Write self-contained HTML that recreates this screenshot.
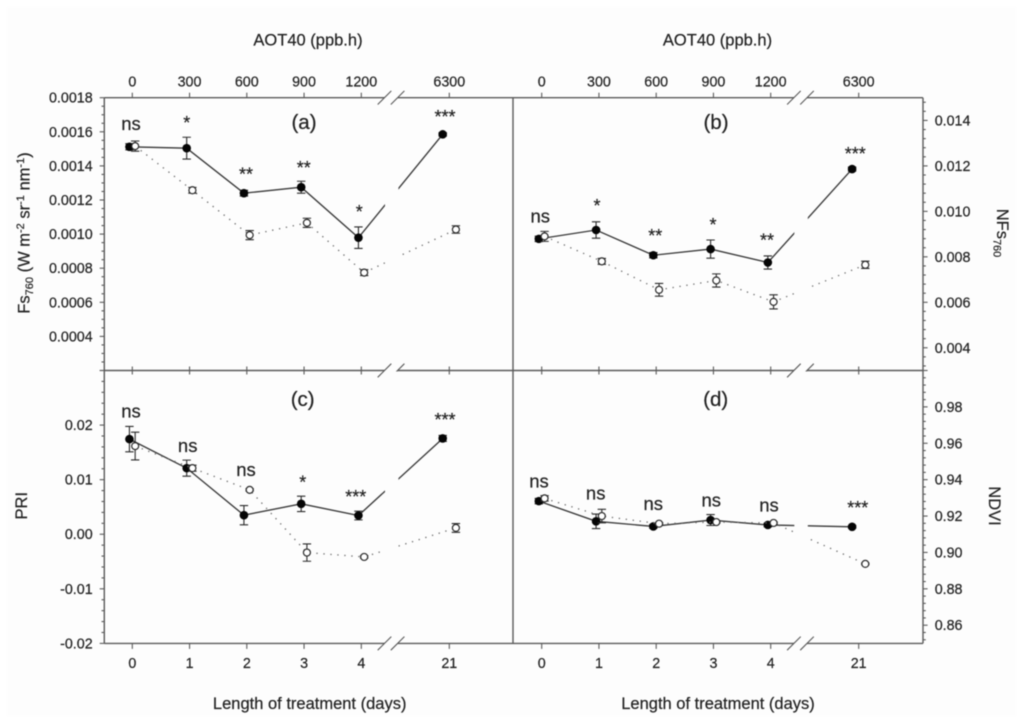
<!DOCTYPE html>
<html lang="en">
<head>
<meta charset="utf-8">
<title>Fs760, NFs760, PRI and NDVI versus length of treatment</title>
<style>
html,body{margin:0;padding:0;background:#fff;}
svg{display:block;filter:blur(0.45px);}
text{font-family:"Liberation Sans",Arial,sans-serif;fill:#222;stroke:#222;stroke-width:0.2px;}
.tick{font-size:14.3px;}
.axis-title{font-size:16.5px;}
.sub{font-size:11px;}
.ns{font-size:18.5px;text-anchor:middle;}
.star{font-size:18px;text-anchor:middle;}
.panel-label{font-size:20.5px;text-anchor:middle;}
</style>
</head>
<body>
<svg id="figure" xmlns="http://www.w3.org/2000/svg" width="1024" height="724" viewBox="0 0 1024 724">
  <rect x="7" y="7" width="1009" height="709" fill="#fdfdfd"/>
  <g id="plots"></g>

  <text class="axis-title" x="308" y="45.5" text-anchor="middle">AOT40 (ppb.h)</text>
  <text class="axis-title" x="717.5" y="45.5" text-anchor="middle">AOT40 (ppb.h)</text>
  <text class="axis-title" x="309.7" y="709" text-anchor="middle">Length of treatment (days)</text>
  <text class="axis-title" x="718" y="709" text-anchor="middle">Length of treatment (days)</text>

  <text class="axis-title" transform="translate(29.5,233) rotate(-90)" text-anchor="middle">Fs<tspan class="sub" dy="3.5">760</tspan><tspan dy="-3.5"> (W m</tspan><tspan class="sub" dy="-5.5">-2</tspan><tspan dy="5.5"> sr</tspan><tspan class="sub" dy="-5.5">-1</tspan><tspan dy="5.5"> nm</tspan><tspan class="sub" dy="-5.5">-1</tspan><tspan dy="5.5">)</tspan></text>
  <text class="axis-title" transform="translate(27,505.7) rotate(-90)" text-anchor="middle">PRI</text>
  <text class="axis-title" transform="translate(997,233) rotate(90)" text-anchor="middle">NFs<tspan class="sub" dy="3.5">760</tspan></text>
  <text class="axis-title" transform="translate(989,506) rotate(90)" text-anchor="middle">NDVI</text>

  <text class="panel-label" x="304" y="129">(a)</text>
  <text class="panel-label" x="716" y="129">(b)</text>
  <text class="panel-label" x="302.7" y="406">(c)</text>
  <text class="panel-label" x="715.7" y="406">(d)</text>

  <g>
    <text class="ns" x="131" y="130">ns</text>
    <text class="star" x="186.7" y="128.8">*</text>
    <text class="star" x="246" y="180.5">**</text>
    <text class="star" x="303.7" y="173.8">**</text>
    <text class="star" x="359.3" y="217.8">*</text>
    <text class="star" x="445" y="123.2">***</text>
  </g>
  <g>
    <text class="ns" x="540.3" y="222.7">ns</text>
    <text class="star" x="597" y="211.8">*</text>
    <text class="star" x="655.3" y="241.8">**</text>
    <text class="star" x="713" y="230.8">*</text>
    <text class="star" x="767" y="246.5">**</text>
    <text class="star" x="855.3" y="159.8">***</text>
  </g>
  <g>
    <text class="ns" x="131" y="417.7">ns</text>
    <text class="ns" x="187.7" y="452">ns</text>
    <text class="ns" x="246" y="476">ns</text>
    <text class="star" x="302.7" y="488.5">*</text>
    <text class="star" x="355.7" y="502.8">***</text>
    <text class="star" x="445" y="425.8">***</text>
  </g>
  <g>
    <text class="ns" x="539" y="487.3">ns</text>
    <text class="ns" x="595.7" y="499.3">ns</text>
    <text class="ns" x="653.3" y="510">ns</text>
    <text class="ns" x="711.3" y="506.7">ns</text>
    <text class="ns" x="769" y="511.7">ns</text>
    <text class="star" x="857.7" y="514.2">***</text>
  </g>
</svg>

<script>
// ---------- shared categories ----------
const days = [0, 1, 2, 3, 4, 21];
const topTickLabels = ['0', '300', '600', '900', '1200', '6300'];
const bottomTickLabels = ['0', '1', '2', '3', '4', '21'];

// ---------- panel (a) Fs760 ----------
const fsTicks = [0.0004, 0.0006, 0.0008, 0.0010, 0.0012, 0.0014, 0.0016, 0.0018];
const fsTickLabels = ['0.0004', '0.0006', '0.0008', '0.0010', '0.0012', '0.0014', '0.0016', '0.0018'];
const fsFilled = [0.001512, 0.001504, 0.00124, 0.001275, 0.000979, 0.001585];
const fsFilledErr = [0.000018, 0.000064, 0.000017, 0.000035, 0.000063, 0.00001];
const fsOpen = [0.001516, 0.001257, 0.000994, 0.001066, 0.000774, 0.001027];
const fsOpenErr = [0.00003, 0.000017, 0.000027, 0.000027, 0.000017, 0.000022];

// ---------- panel (b) NFs760 ----------
const nfsTicks = [0.004, 0.006, 0.008, 0.010, 0.012, 0.014];
const nfsTickLabels = ['0.004', '0.006', '0.008', '0.010', '0.012', '0.014'];
const nfsFilled = [0.00879, 0.00918, 0.00807, 0.00834, 0.00775, 0.01186];
const nfsFilledErr = [0.00012, 0.00036, 0.00012, 0.0004, 0.00029, 0.00009];
const nfsOpen = [0.0089, 0.0078, 0.00655, 0.00696, 0.00602, 0.00765];
const nfsOpenErr = [0.00022, 0.00013, 0.00028, 0.00029, 0.00031, 0.00016];

// ---------- panel (c) PRI ----------
const priTicks = [-0.02, -0.01, 0, 0.01, 0.02];
const priTickLabels = ['-0.02', '-0.01', '0.00', '0.01', '0.02'];
const priFilled = [0.01743, 0.01211, 0.00349, 0.00557, 0.00343, 0.01755];
const priFilledErr = [0.00232, 0.00147, 0.00177, 0.00141, 0.0008, 0.00055];
const priOpen = [0.01615, 0.01211, 0.00813, -0.00336, -0.00416, 0.00116];
const priOpenErr = [0.00254, 0.00055, 0.0002, 0.00159, 0.0002, 0.0008];

// ---------- panel (d) NDVI ----------
const ndviTicks = [0.86, 0.88, 0.90, 0.92, 0.94, 0.96, 0.98];
const ndviTickLabels = ['0.86', '0.88', '0.90', '0.92', '0.94', '0.96', '0.98'];
const ndviFilled = [0.9282, 0.9171, 0.9143, 0.9178, 0.9151, 0.9141];
const ndviFilledErr = [0.0015, 0.004, 0.001, 0.003, 0.001, 0.0007];
const ndviOpen = [0.9297, 0.92, 0.9158, 0.9167, 0.9162, 0.8937];
const ndviOpenErr = [0.0015, 0.0037, 0.0005, 0.0005, 0.0005, 0.0004];

const SVG_NS = 'http://www.w3.org/2000/svg';
const plots = document.getElementById('plots');

function make(tag, attrs, parent) {
  const node = document.createElementNS(SVG_NS, tag);
  Object.keys(attrs).forEach(function (k) { node.setAttribute(k, attrs[k]); });
  parent.appendChild(node);
  return node;
}

const panels = [
  { id: 'a', left: 104.3, right: 513, top: 97.7, bottom: 370.5, xShift: 0, yMin: 0.0002, yMax: 0.0018,
    minorStep: 0.00005, perMajor: 4, side: 'left', topLabels: true, bottomLabels: false,
    ticks: fsTicks, labels: fsTickLabels, filled: fsFilled, filledErr: fsFilledErr, open: fsOpen, openErr: fsOpenErr },
  { id: 'b', left: 513, right: 923, top: 97.7, bottom: 370.5, xShift: 409.4, yMin: 0.003, yMax: 0.015,
    minorStep: 0.0004, perMajor: 5, side: 'right', topLabels: true, bottomLabels: false,
    ticks: nfsTicks, labels: nfsTickLabels, filled: nfsFilled, filledErr: nfsFilledErr, open: nfsOpen, openErr: nfsOpenErr },
  { id: 'c', left: 104.3, right: 513, top: 370.5, bottom: 643.4, xShift: 0, yMin: -0.02, yMax: 0.03,
    minorStep: 0.002, perMajor: 5, side: 'left', topLabels: false, bottomLabels: true,
    ticks: priTicks, labels: priTickLabels, filled: priFilled, filledErr: priFilledErr, open: priOpen, openErr: priOpenErr },
  { id: 'd', left: 513, right: 923, top: 370.5, bottom: 643.4, xShift: 409.4, yMin: 0.85, yMax: 1.0,
    minorStep: 0.004, perMajor: 5, side: 'right', topLabels: false, bottomLabels: true,
    ticks: ndviTicks, labels: ndviTickLabels, filled: ndviFilled, filledErr: ndviFilledErr, open: ndviOpen, openErr: ndviOpenErr }
];

const AXIS_COLOR = '#5a5a5a';
const MARK_COLOR = '#2a2a2a';

// broken x axis: linear up to the break, then its own segment around day 21
function xScale(panel, day) {
  if (day <= 4.5) { return 132.3 + panel.xShift + day * 57.25; }
  return 449.3 + panel.xShift + (day - 21) * 13.2;
}
function yScale(panel, value) {
  return panel.top + (panel.yMax - value) / (panel.yMax - panel.yMin) * (panel.bottom - panel.top);
}
function jitter(day, sign) {
  return day + sign * (day <= 4 ? 0.05 : 0.5);
}

function drawSeries(panel, group, values, errors, sign, isFilled) {
  const pts = values.map(function (v, i) {
    return xScale(panel, jitter(days[i], sign)).toFixed(2) + ',' + yScale(panel, v).toFixed(2);
  }).join(' ');
  const seriesName = isFilled ? 'filled-series' : 'open-series';
  const path = make('polyline', {
    points: pts, fill: 'none',
    stroke: isFilled ? '#383838' : '#6a6a6a',
    'stroke-width': isFilled ? 1.35 : 1.3,
    'stroke-dasharray': isFilled ? 'none' : '1.3 5.7'
  }, group);
  
  

  const gap = make('rect', {
    x: 385 + panel.xShift, y: panel.top + 1, width: 13.3, height: panel.bottom - panel.top - 2, fill: '#fdfdfd'
  }, group);
  
  

  values.forEach(function (v, i) {
    const cx = xScale(panel, jitter(days[i], sign));
    const yHi = yScale(panel, v + errors[i]);
    const yLo = yScale(panel, v - errors[i]);
    const d = 'M' + cx + ' ' + yHi + 'V' + yLo +
      'M' + (cx - 4.2) + ' ' + yHi + 'H' + (cx + 4.2) +
      'M' + (cx - 4.2) + ' ' + yLo + 'H' + (cx + 4.2);
    const bar = make('path', { d: d, fill: 'none', stroke: MARK_COLOR, 'stroke-width': 1.1 }, group);
    
    

    const dot = make('circle', {
      cx: cx, cy: yScale(panel, v), r: isFilled ? 4.3 : 3.5,
      fill: isFilled ? '#050505' : '#fff',
      stroke: isFilled ? 'none' : MARK_COLOR,
      'stroke-width': isFilled ? 0 : 1.2
    }, group);
    
    
  });
}

function axisLine(parent, x1, y1, x2, y2, width, name) {
  const ln = make('line', { x1: x1, y1: y1, x2: x2, y2: y2, stroke: AXIS_COLOR, 'stroke-width': width }, parent);
  
  
  return ln;
}

function tickText(parent, x, y, anchor, content, name) {
  const t = make('text', { x: x, y: y, 'text-anchor': anchor, 'class': 'tick' }, parent);
  t.textContent = content;
  
  
  return t;
}

function drawXAxis(panel, group, y, tickTop, tickBottom, name) {
  const breakLeft = 384.5 + panel.xShift;
  const breakRight = 397.6 + panel.xShift;
  axisLine(group, panel.left, y, breakLeft, y, 1.4, name + '-line');
  axisLine(group, breakRight, y, panel.right, y, 1.4, name + '-line');
  axisLine(group, breakLeft - 6.8, y + 6.8, breakLeft + 6.8, y - 6.8, 1.1, name + '-break-mark');
  axisLine(group, breakRight - 6.8, y + 6.8, breakRight + 6.8, y - 6.8, 1.1, name + '-break-mark');
  days.forEach(function (d) {
    const x = xScale(panel, d);
    axisLine(group, x, y - tickTop, x, y + tickBottom, 1.1, name + '-tick');
  });
}

function drawYAxis(panel, group) {
  const isLeft = panel.side === 'left';
  const axisX = isLeft ? panel.left : panel.right;
  const dir = isLeft ? -1 : 1;
  axisLine(group, axisX, panel.top, axisX, panel.bottom, 1.4, 'y-axis-line-' + panel.id);

  const anchor = panel.ticks[0];
  const eps = panel.minorStep / 100;
  const below = Math.floor((anchor - panel.yMin + eps) / panel.minorStep);
  const above = Math.floor((panel.yMax - anchor + eps) / panel.minorStep);
  for (let k = -below; k <= above; k++) {
    const y = yScale(panel, anchor + k * panel.minorStep);
    const isMajor = ((k % panel.perMajor) + panel.perMajor) % panel.perMajor === 0;
    axisLine(group, axisX, y, axisX + dir * (isMajor ? 4.6 : 2.8), y, 1.1,
      isMajor ? 'y-axis-major-tick' : 'y-axis-minor-tick');
  }
  panel.ticks.forEach(function (v, i) {
    tickText(group, isLeft ? 92.7 : 934.7, yScale(panel, v) + 5, isLeft ? 'end' : 'start',
      panel.labels[i], 'y-tick-label-' + panel.id);
  });
}

panels.forEach(function (panel) {
  const group = make('g', {}, plots);
  
  

  drawSeries(panel, group, panel.filled, panel.filledErr, -1, true);
  drawSeries(panel, group, panel.open, panel.openErr, 1, false);
  drawYAxis(panel, group);

  if (panel.topLabels) {
    drawXAxis(panel, group, panel.top, 5, 0, 'top-axis-' + panel.id);
    days.forEach(function (d, i) {
      tickText(group, xScale(panel, d), 86.7, 'middle', topTickLabels[i], 'top-tick-label-' + panel.id);
    });
    drawXAxis(panel, group, panel.bottom, 4, 4, 'middle-axis-' + panel.id);
  }
  if (panel.bottomLabels) {
    drawXAxis(panel, group, panel.bottom, 0, 5.5, 'bottom-axis-' + panel.id);
    days.forEach(function (d, i) {
      tickText(group, xScale(panel, d), 668, 'middle', bottomTickLabels[i], 'bottom-tick-label-' + panel.id);
    });
  }
});

const divider = make('line', { x1: 513, y1: 97.7, x2: 513, y2: 643.4, stroke: AXIS_COLOR, 'stroke-width': 1.4 }, plots);


</script>
</body>
</html>
